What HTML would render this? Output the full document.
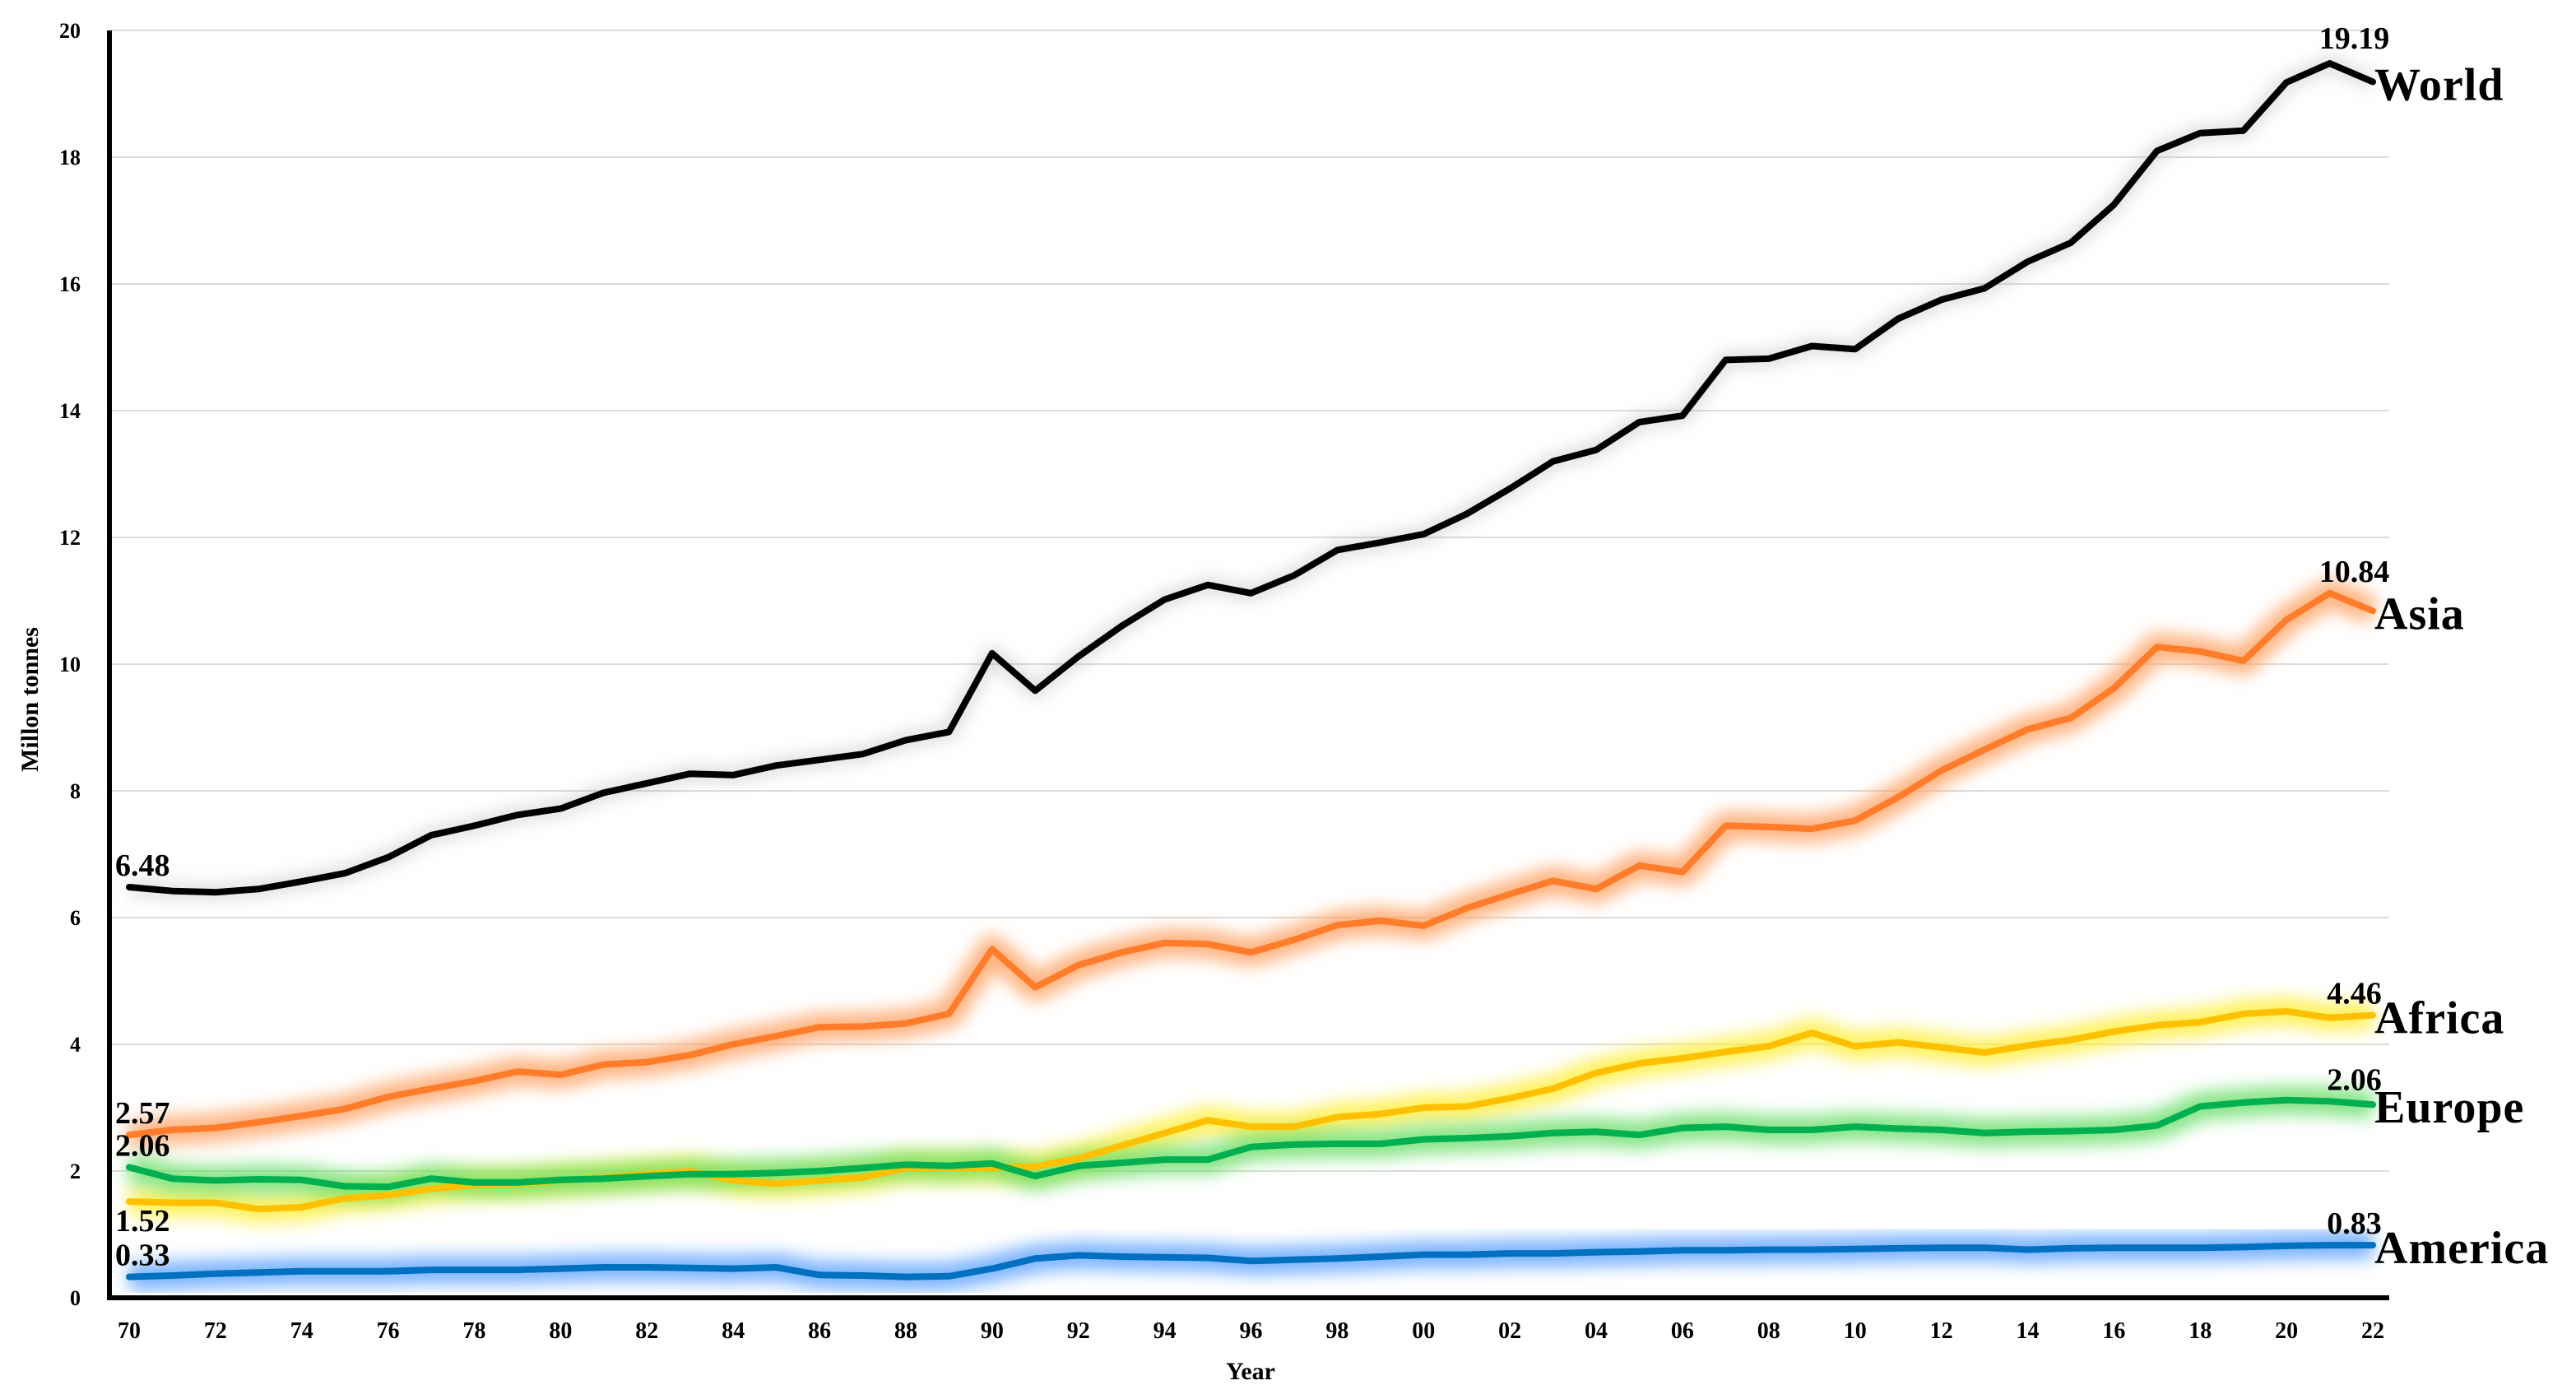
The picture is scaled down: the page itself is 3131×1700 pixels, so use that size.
<!DOCTYPE html>
<html><head><meta charset="utf-8">
<style>
html,body{margin:0;padding:0;background:#fff;}
svg{display:block;font-family:"Liberation Serif",serif;}
</style></head>
<body>
<svg id="chart" width="3131" height="1700" viewBox="0 0 3131 1700">
<defs>
<filter id="glow" x="-5%" y="-50%" width="110%" height="200%"><feGaussianBlur stdDeviation="10"/></filter>
</defs>
<g id="grid"></g>
<g id="yticks"></g>
<g id="xticks"></g>
<g id="series"></g>
<g id="labels"></g>
<line x1="133" y1="37" x2="133" y2="1578" stroke="#000" stroke-width="6"/>
<line x1="130" y1="1577" x2="2904" y2="1577" stroke="#000" stroke-width="6"/>
<text transform="translate(46,850) rotate(-90)" text-anchor="middle" font-size="30" font-weight="bold">Millon tonnes</text>
<text x="1520" y="1676" text-anchor="middle" font-size="30" font-weight="bold">Year</text>
</svg>
<script>
const years = [];
for (let i = 0; i <= 52; i++) years.push(1970 + i);
const yTickValues = [0,2,4,6,8,10,12,14,16,18,20];
const xTickLabels = ["70","72","74","76","78","80","82","84","86","88","90","92","94","96","98","00","02","04","06","08","10","12","14","16","18","20","22"];
const world = [6.48,6.42,6.40,6.45,6.57,6.70,6.95,7.30,7.45,7.62,7.72,7.97,8.12,8.27,8.25,8.40,8.49,8.58,8.80,8.93,10.17,9.58,10.12,10.60,11.02,11.25,11.12,11.40,11.80,11.92,12.05,12.37,12.77,13.20,13.38,13.82,13.92,14.80,14.82,15.02,14.97,15.45,15.75,15.93,16.35,16.65,17.25,18.10,18.38,18.42,19.18,19.48,19.19];
const asia = [2.57,2.65,2.68,2.77,2.87,2.98,3.17,3.30,3.42,3.57,3.52,3.68,3.72,3.83,4.00,4.13,4.27,4.28,4.33,4.48,5.50,4.90,5.25,5.45,5.60,5.58,5.45,5.65,5.88,5.95,5.87,6.15,6.37,6.58,6.45,6.82,6.72,7.45,7.43,7.40,7.53,7.90,8.32,8.65,8.97,9.15,9.62,10.27,10.20,10.05,10.70,11.12,10.84];
const africa = [1.52,1.50,1.50,1.40,1.43,1.57,1.62,1.72,1.78,1.80,1.85,1.90,1.95,2.00,1.85,1.80,1.85,1.90,2.05,2.05,2.05,2.07,2.20,2.40,2.60,2.80,2.70,2.70,2.85,2.90,3.00,3.02,3.15,3.30,3.55,3.70,3.78,3.88,3.97,4.18,3.97,4.03,3.95,3.87,3.98,4.07,4.20,4.30,4.35,4.48,4.52,4.42,4.46];
const europe = [2.06,1.88,1.85,1.87,1.86,1.76,1.75,1.88,1.82,1.82,1.86,1.88,1.92,1.95,1.95,1.97,2.00,2.05,2.10,2.08,2.12,1.92,2.08,2.13,2.18,2.18,2.38,2.42,2.43,2.43,2.50,2.52,2.55,2.60,2.62,2.57,2.68,2.70,2.65,2.65,2.70,2.67,2.65,2.60,2.62,2.63,2.65,2.72,3.02,3.08,3.12,3.10,3.05];
const america = [0.33,0.35,0.38,0.40,0.42,0.42,0.42,0.44,0.44,0.44,0.46,0.48,0.48,0.47,0.46,0.48,0.36,0.35,0.33,0.34,0.46,0.62,0.67,0.65,0.64,0.63,0.58,0.60,0.62,0.65,0.68,0.68,0.70,0.70,0.72,0.73,0.75,0.75,0.76,0.76,0.77,0.78,0.79,0.79,0.76,0.78,0.79,0.79,0.79,0.80,0.82,0.83,0.83];
const seriesNames = ["America","Europe","Africa","Asia","World"];
const startLabels = ["0.33","2.06","1.52","2.57","6.48"];
const endLabels = ["0.83","2.06","4.46","10.84","19.19"];

const NS = "http://www.w3.org/2000/svg";
const X0 = 157, X1 = 2884, Y0 = 1577, Y1 = 37;
function xs(year){ return X0 + (year - 1970) * (X1 - X0) / 52; }
function ys(v){ return Y0 - v * (Y0 - Y1) / 20; }
function mk(tag, attrs, parent){ const e = document.createElementNS(NS, tag); for (const k in attrs) e.setAttribute(k, attrs[k]); parent.appendChild(e); return e; }

const grid = document.getElementById('grid'), yt = document.getElementById('yticks'), xt = document.getElementById('xticks');
yTickValues.forEach(v => {
  if (v > 0) {
    const l = mk('line', {x1:133, x2:2904, y1:ys(v), y2:ys(v), stroke:'#dcdcdc', 'stroke-width':2}, grid);
    
    
  }
  const t = mk('text', {x:98, y:ys(v)+9, 'text-anchor':'end', 'font-size':26, 'font-weight':'bold'}, yt);
  t.textContent = v;
  
  
});
xTickLabels.forEach((lab, i) => {
  const t = mk('text', {x:xs(1970 + i*2), y:1626, 'text-anchor':'middle', 'font-size':28, 'font-weight':'bold'}, xt);
  t.textContent = lab;
  
  
});

const data = [america, europe, africa, asia, world];
const colors = ["#0070c0","#00b050","#ffc000","#ff7c2a","#000000"];
const glows = ["#5aa0ff","#66dd66","#ffee33","#ffa060","#999999"];
const sg = document.getElementById('series'), lg = document.getElementById('labels');
const order = [4,3,2,1,0];
order.forEach(si => {
  const vals = data[si];
  const pts = vals.map((v,i) => xs(years[i]).toFixed(1) + ',' + ys(v).toFixed(1)).join(' ');
  const g = mk('polyline', {points:pts, fill:'none', stroke:glows[si], 'stroke-width': si===4?18:34, 'stroke-opacity': si===4?0.35:0.8, 'stroke-linejoin':'round', filter:'url(#glow)'}, sg);
  
  
});
order.forEach(si => {
  const vals = data[si];
  const pts = vals.map((v,i) => xs(years[i]).toFixed(1) + ',' + ys(v).toFixed(1)).join(' ');
  const p = mk('polyline', {points:pts, fill:'none', stroke:colors[si], 'stroke-width':8, 'stroke-linejoin':'round', 'stroke-linecap':'round'}, sg);
  
  
});
const startDy = [-14,-14,36,-14,-14];
const endDy = [-14,-14,-14,-14,-18];
data.forEach((vals, si) => {
  const n = vals.length - 1;
  const s = mk('text', {x:140, y:ys(vals[0]) + startDy[si], 'font-size':38, 'font-weight':'bold'}, lg);
  s.textContent = startLabels[si];
  
  
  const e = mk('text', {x:xs(years[n-1]) + 30, y:ys(Math.max(vals[n], vals[n-1])) + endDy[si], 'text-anchor':'middle', 'font-size':38, 'font-weight':'bold'}, lg);
  e.textContent = endLabels[si];
  
  
  const nm = mk('text', {x:xs(years[n]) + 2, y:ys(vals[n]) + 22, 'font-size':56, 'font-weight':'bold', 'letter-spacing':1}, lg);
  nm.textContent = seriesNames[si];
  
  
});
</script>
</body></html>
